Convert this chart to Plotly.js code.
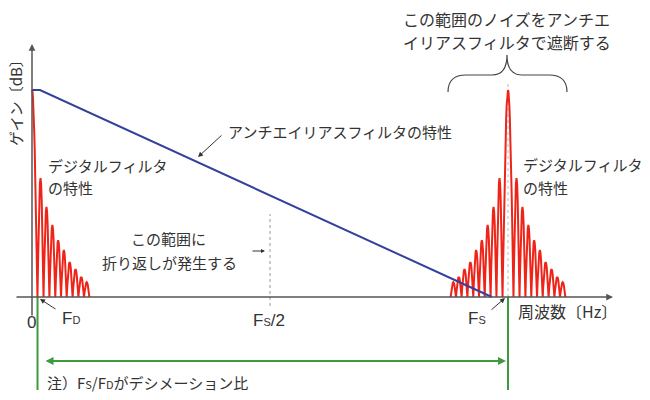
<!DOCTYPE html>
<html><head><meta charset="utf-8">
<script src="https://cdn.plot.ly/plotly-3.0.1.min.js"></script>
<style>html,body{margin:0;padding:0;background:#fff}#chart{width:650px;height:400px}</style>
</head><body><div id="chart"></div>
<script>
// ---------- data (x in units of Fs, y = relative gain, peak = 1) ----------
const fs = 1.0;
const fd = 0.0116;
const mainPeak = 1.0;
const mainNull = 0.0115;
const lobeOffsets = [0.0179, 0.0305, 0.0426, 0.0553, 0.0666, 0.0792, 0.0914, 0.1036, 0.1149];
const lobePeaks   = [0.575, 0.435, 0.348, 0.275, 0.227, 0.169, 0.135, 0.097, 0.072];
const aafX = [0, 0.0168, 0.966];
const aafY = [1.0, 1.0, 0.0];
const tickVals   = [0, fd, 0.5, fs];
const tickLabels = ['0', 'F<span style="font-size:11px">D</span>', 'F<span style="font-size:11px">S</span>/2', 'F<span style="font-size:11px">S</span>'];

// ---------- layout helpers (pixel -> axis units) ----------
const W = 650, H = 400, X0 = 32, Y0 = 297, SX = 476, SY = 207;
const X = px => (px - X0) / SX;
const Y = py => (Y0 - py) / SY;

// build one |sinc|-like arch between two nulls
function arch(xa, xb, peak, xs, ys) {
  const n = 10;
  for (let i = 0; i <= n; i++) {
    const t = i / n;
    xs.push(xa + (xb - xa) * t);
    ys.push(peak * Math.sin(Math.PI * t));
  }
}
// edges of side lobes (offsets from lobe centre)
const edges = [mainNull];
for (let k = 0; k < lobeOffsets.length; k++) {
  edges.push(k < lobeOffsets.length - 1 ? (lobeOffsets[k] + lobeOffsets[k + 1]) / 2 : 2 * lobeOffsets[k] - edges[k]);
}
function response(centre, withLeft) {
  const xs = [], ys = [];
  if (withLeft) {
    for (let k = lobePeaks.length - 1; k >= 0; k--) arch(centre - edges[k + 1], centre - edges[k], lobePeaks[k], xs, ys);
  }
  const n = 12, start = withLeft ? -n : 0;
  for (let i = start; i <= n; i++) {
    const u = i / n;
    xs.push(centre + u * mainNull);
    ys.push(mainPeak * Math.cos(Math.PI / 2 * u));
  }
  for (let k = 0; k < lobePeaks.length; k++) arch(centre + edges[k], centre + edges[k + 1], lobePeaks[k], xs, ys);
  return {xs, ys};
}
const left = response(0, false);
const right = response(fs, true);

const RED = '#ee2418', BLUE = '#34409c', GREEN = '#3d9b3d', TXT = '#333333', AX = '#555555';
const JP = '"Noto Sans CJK JP", "Noto Sans", sans-serif';
const LAT = '"Liberation Sans", Arial, "Noto Sans CJK JP", sans-serif';

const traces = [
  {x: left.xs, y: left.ys, mode: 'lines', line: {color: RED, width: 2}, hoverinfo: 'skip'},
  {x: right.xs, y: right.ys, mode: 'lines', line: {color: RED, width: 2}, hoverinfo: 'skip'},
  {x: aafX, y: aafY, mode: 'lines', line: {color: BLUE, width: 2}, hoverinfo: 'skip'}
];

function txt(text, px, py, opts) {
  return Object.assign({text: text, x: X(px), y: Y(py), xref: 'x', yref: 'y', showarrow: false,
    xanchor: 'left', yanchor: 'middle', font: {family: JP, size: 15, color: TXT}}, opts || {});
}
function arrow(fromPx, fromPy, toPx, toPy, opts) {
  return Object.assign({text: '', x: X(toPx), y: Y(toPy), ax: X(fromPx), ay: Y(fromPy),
    xref: 'x', yref: 'y', axref: 'x', ayref: 'y', showarrow: true,
    arrowhead: 2, arrowsize: 1, arrowwidth: 1, arrowcolor: TXT}, opts || {});
}

const annotations = [
  // axes
  arrow(15, 297, 613, 297, {arrowcolor: AX, arrowwidth: 1.5, arrowsize: 0.9}),
  arrow(32, 317, 32, 44, {arrowcolor: AX, arrowwidth: 1.5, arrowsize: 0.9}),
  // tick labels
  txt(tickLabels[0], 31, 322, {xanchor: 'center', font: {family: LAT, size: 17, color: TXT}}),
  txt(tickLabels[1], 60, 318, {font: {family: LAT, size: 17, color: TXT}}),
  txt(tickLabels[2], 269, 320, {xanchor: 'center', font: {family: LAT, size: 17, color: TXT}}),
  txt(tickLabels[3], 466, 318, {font: {family: LAT, size: 17, color: TXT}}),
  arrow(57, 310, 40, 299),
  arrow(490, 311, 505, 298),
  // axis titles
  txt('周波数〔Hz〕', 516, 311, {font: {family: JP, size: 16, color: TXT}}),
  txt('ゲイン〔dB〕', 15, 99, {xanchor: 'center', textangle: -90, font: {family: JP, size: 15, color: TXT}}),
  // labels
  txt('デジタルフィルタ', 46, 165),
  txt('の特性', 46, 187),
  txt('デジタルフィルタ', 521, 164),
  txt('の特性', 521, 187),
  txt('アンチエイリアスフィルタの特性', 226, 131),
  arrow(223, 134, 198, 157),
  txt('この範囲に', 168, 238, {xanchor: 'center'}),
  txt('折り返しが発生する', 169, 262, {xanchor: 'center'}),
  arrow(251, 251, 265, 251, {arrowsize: 0.8}),
  txt('この範囲のノイズをアンチエ', 401, 19, {font: {family: JP, size: 16, color: TXT}}),
  txt('イリアスフィルタで遮断する', 401, 42, {font: {family: JP, size: 16, color: TXT}}),
  // decimation ratio
  arrow(44, 361, 506, 361, {arrowcolor: GREEN, arrowwidth: 2, arrowsize: 0.8, arrowside: 'end+start'}),
  txt('注）F<span style="font-size:11px">S</span>/F<span style="font-size:11px">D</span>がデシメーション比', 45, 382)
];

function P(px, py) { return X(px) + ',' + Y(py); }
const brace = 'M' + P(448, 92) + ' Q' + P(448, 75) + ' ' + P(466, 75) + ' L' + P(492, 75) +
  ' Q' + P(507, 75) + ' ' + P(507, 55) + ' Q' + P(507, 75) + ' ' + P(522, 75) + ' L' + P(549, 75) +
  ' Q' + P(567, 75) + ' ' + P(567, 92);

const shapes = [
  {type: 'line', xref: 'x', yref: 'y', x0: fs, x1: fs, y0: 0, y1: Y(82), line: {color: '#bbbbbb', width: 1, dash: 'dot'}, layer: 'below'},
  {type: 'line', xref: 'x', yref: 'y', x0: 0.5, x1: 0.5, y0: Y(306), y1: Y(214), line: {color: '#999999', width: 1, dash: 'dot'}},
  {type: 'line', xref: 'x', yref: 'y', x0: fd, x1: fd, y0: 0, y1: Y(390), line: {color: GREEN, width: 2}},
  {type: 'line', xref: 'x', yref: 'y', x0: fs, x1: fs, y0: 0, y1: Y(390), line: {color: GREEN, width: 2}},
  {type: 'path', xref: 'x', yref: 'y', path: brace, line: {color: '#444444', width: 1.2}}
];

const layout = {
  width: W, height: H,
  margin: {l: 0, r: 0, t: 0, b: 0},
  paper_bgcolor: '#ffffff', plot_bgcolor: '#ffffff',
  showlegend: false,
  xaxis: {range: [X(0), X(W)], visible: false, fixedrange: true},
  yaxis: {range: [Y(H), Y(0)], visible: false, fixedrange: true},
  annotations: annotations,
  shapes: shapes
};
Plotly.newPlot('chart', traces, layout, {staticPlot: true, displayModeBar: false});
</script></body></html>
